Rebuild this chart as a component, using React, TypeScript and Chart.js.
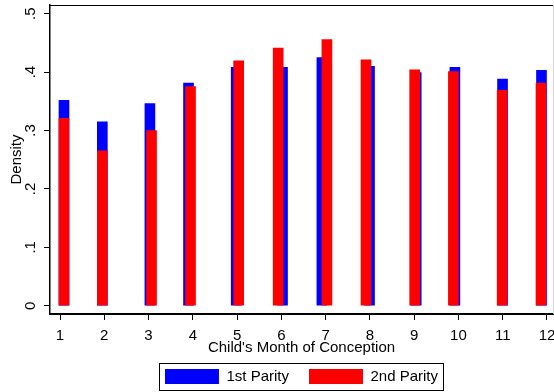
import React, { useEffect, useRef } from 'react';
import { Chart, registerables } from 'chart.js';

Chart.register(...registerables);

// Categories / tick labels
const months = [1, 2, 3, 4, 5, 6, 7, 8, 9, 10, 11, 12];
const xTickLabels = ['1', '2', '3', '4', '5', '6', '7', '8', '9', '10', '11', '12'];
const yTickLabels = ['0', '.1', '.2', '.3', '.4', '.5'];
const seriesNames = ['1st Parity', '2nd Parity'];

// Bar positions (month of conception, as plotted) and densities
const firstParityX = [1.09, 1.956, 3.031, 3.903, 4.98, 6.026, 6.916, 7.991, 9.046, 9.92, 10.996, 11.876];
const firstParityDensity = [0.3515, 0.315, 0.346, 0.381, 0.408, 0.408, 0.425, 0.41, 0.399, 0.408, 0.388, 0.403];
const secondParityX = [1.09, 1.956, 3.067, 3.948, 5.036, 5.928, 7.029, 7.912, 9.012, 9.886, 10.988, 11.865];
const secondParityDensity = [0.321, 0.265, 0.3, 0.375, 0.4195, 0.441, 0.4555, 0.421, 0.404, 0.401, 0.369, 0.381];

const FONT = { family: "'Liberation Sans', Arial, sans-serif", size: 15 };

const framePlugin = {
  id: 'stataFrame',
  afterDraw(chart: any) {
    const { ctx, chartArea } = chart;
    const { left, right, top, bottom } = chartArea;
    ctx.save();
    ctx.lineWidth = 1;
    ctx.strokeStyle = '#000';
    ctx.beginPath();
    ctx.moveTo(left, Math.round(top) + 0.5);
    ctx.lineTo(right, Math.round(top) + 0.5);
    ctx.stroke();
    ctx.strokeStyle = '#d4d4d4';
    ctx.beginPath();
    ctx.moveTo(Math.round(right) + 0.5, top);
    ctx.lineTo(Math.round(right) + 0.5, bottom);
    ctx.stroke();
    const boxes = chart.legend && chart.legend.legendHitBoxes;
    if (boxes && boxes.length) {
      let l = Infinity, r = -Infinity, t = Infinity, b = -Infinity;
      boxes.forEach((h: any) => {
        l = Math.min(l, h.left);
        r = Math.max(r, h.left + h.width);
        t = Math.min(t, h.top);
        b = Math.max(b, h.top + h.height);
      });
      ctx.strokeStyle = '#000';
      ctx.lineWidth = 1;
      const x0 = Math.round(l - 6) + 0.5;
      const x1 = Math.round(r + 5) + 0.5;
      const y0 = Math.round(t - 6) + 0.5;
      const y1 = Math.round(b + 6) + 0.5;
      ctx.strokeRect(x0, y0, x1 - x0, y1 - y0);
    }
    ctx.restore();
  },
};

export default function App() {
  const canvasRef = useRef<HTMLCanvasElement | null>(null);

  useEffect(() => {
    if (!canvasRef.current) return;
    const chart = new Chart(canvasRef.current, {
      type: 'bar',
      data: {
        datasets: [
          {
            label: seriesNames[0],
            data: months.map((m, i) => ({ x: firstParityX[i], y: firstParityDensity[i] })),
            backgroundColor: '#0000ff',
            borderWidth: 0,
            barThickness: 10,
            grouped: false,
            order: 2,
          },
          {
            label: seriesNames[1],
            data: months.map((m, i) => ({ x: secondParityX[i], y: secondParityDensity[i] })),
            backgroundColor: '#ff0000',
            borderWidth: 0,
            barThickness: 10,
            grouped: false,
            order: 1,
          },
        ],
      } as any,
      options: {
        animation: false,
        responsive: false,
        devicePixelRatio: 1,
        layout: { padding: { top: 5, right: 1, bottom: 1, left: 0 } },
        plugins: {
          tooltip: { enabled: false },
          legend: {
            position: 'bottom',
            fullSize: false,
            maxHeight: 42,
            labels: {
              boxWidth: 54,
              boxHeight: 15,
              padding: 20,
              color: '#000',
              font: FONT,
              sort: (a: any, b: any) => a.datasetIndex - b.datasetIndex,
            },
          },
        },
        scales: {
          x: {
            type: 'linear',
            min: 0.774,
            max: 12.136,
            offset: false,
            afterFit: (s: any) => {
              s.height = 35;
              s.paddingLeft = 0;
              s.paddingRight = 0;
            },
            border: { display: true, color: '#000', width: 2 },
            grid: { display: true, offset: false, drawOnChartArea: false, drawTicks: true, tickLength: 6, color: '#000' },
            ticks: {
              stepSize: 1,
              includeBounds: false,
              autoSkip: false,
              maxRotation: 0,
              minRotation: 0,
              padding: 7,
              color: '#000',
              font: FONT,
              callback: (v: any) => xTickLabels[Math.round(Number(v)) - 1] ?? '',
            },
            title: {
              display: true,
              text: "Child's Month of Conception",
              color: '#000',
              font: FONT,
              padding: { top: 0, bottom: -7.5 },
            },
          },
          y: {
            type: 'linear',
            min: -0.0142,
            max: 0.5149,
            afterFit: (s: any) => {
              s.width = 50;
              s.paddingTop = 0;
              s.paddingBottom = 0;
            },
            border: { display: true, color: '#000', width: 1.5 },
            grid: { display: true, drawOnChartArea: false, drawTicks: true, tickLength: 6, color: '#000' },
            ticks: {
              stepSize: 0.1,
              includeBounds: false,
              minRotation: 90,
              maxRotation: 90,
              crossAlign: 'center',
              padding: 7,
              color: '#000',
              font: FONT,
              callback: (v: any) => yTickLabels[Math.round(Number(v) * 10)] ?? '',
            },
            title: {
              display: true,
              text: 'Density',
              color: '#000',
              font: FONT,
              padding: { top: 8, bottom: 0 },
            },
          },
        },
      } as any,
      plugins: [framePlugin],
    });
    return () => chart.destroy();
  }, []);

  return (
    <div style={{ position: 'absolute', left: 0, top: 0, width: 554, height: 392, background: '#fff' }}>
      <canvas ref={canvasRef} width={554} height={392} style={{ display: 'block' }} />
    </div>
  );
}
